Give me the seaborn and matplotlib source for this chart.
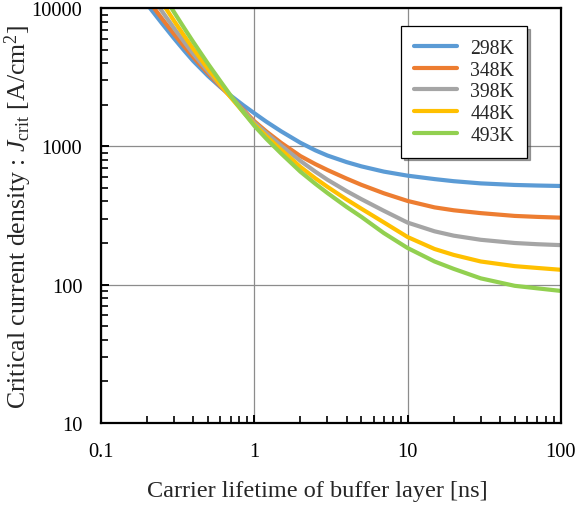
import pandas as pd
import numpy as np
import matplotlib
matplotlib.use('Agg')
import matplotlib.pyplot as plt
import seaborn as sns
_ = sns.set_style('white')
plt.rcParams['font.family'] = ['Liberation Serif', 'DejaVu Serif']
plt.rcParams['mathtext.fontset'] = 'custom'
plt.rcParams['mathtext.rm'] = 'Liberation Serif'
plt.rcParams['mathtext.it'] = 'Liberation Serif:italic'

# carrier lifetime [ns]
lifetime = [0.2, 0.25, 0.3, 0.35, 0.4, 0.5, 0.6, 0.7, 0.85, 1, 1.2, 1.5, 2, 2.5, 3, 4,
            5, 7, 10, 15, 20, 30, 50, 70, 100]

# critical current density [A/cm2]
j_298 = [10660, 7765, 6037, 4918, 4147, 3229, 2691, 2336, 1980, 1739, 1508, 1284, 1062,
         937, 859, 770, 717, 657, 614, 580, 560, 540, 526, 521, 517]
j_348 = [11700, 8405, 6488, 5261, 4423, 3370, 2727, 2296, 1836, 1522, 1281, 1059, 851,
         745, 675, 585, 527, 458, 403, 362, 345, 329, 314, 309, 305]
j_398 = [13650, 9506, 7154, 5675, 4677, 3483, 2773, 2306, 1808, 1488, 1245, 1011, 785,
         657, 574, 475, 415, 342, 281, 243, 226, 211, 200, 196, 193]
j_448 = [16140, 10990, 8091, 6284, 5076, 3632, 2803, 2273, 1766, 1441, 1184, 943, 711,
         588, 510, 413, 354, 282, 221, 181, 164, 147, 136, 132, 128]
j_493 = [19400, 12930, 9342, 7145, 5693, 3950, 2971, 2340, 1766, 1411, 1134, 887, 656,
         537, 460, 365, 309, 236, 184, 147, 130, 111, 98, 94, 90]

temps = ['298K', '348K', '398K', '448K', '493K']
colors = ['#5B9BD5', '#ED7D31', '#A5A5A5', '#FFC000', '#92D050']

frames = []
for t, j in zip(temps, [j_298, j_348, j_398, j_448, j_493]):
    frames.append(pd.DataFrame({'tau': lifetime, 'J': j, 'T': t}))
df = pd.concat(frames, ignore_index=True)

fig, ax = plt.subplots(figsize=(5.77, 5.10), dpi=100)
fig.subplots_adjust(left=0.175, right=0.972, top=0.982, bottom=0.169)

ax.set_xscale('log')
ax.set_yscale('log')
sns.lineplot(data=df, x='tau', y='J', hue='T', palette=colors, linewidth=3,
             ax=ax, sort=False, legend=True, solid_joinstyle='round')

ax.set_xlim(0.1, 100)
ax.set_ylim(10, 10000)
ax.set_xticks([0.1, 1, 10, 100])
ax.set_xticklabels(['0.1', '1', '10', '100'])
ax.set_yticks([10, 100, 1000, 10000])
ax.set_yticklabels(['10', '100', '1000', '10000'])

ax.grid(True, which='major', color='#8c8c8c', linewidth=0.9)
ax.set_axisbelow(True)
for s in ax.spines.values():
    s.set_color('black')
    s.set_linewidth(1.6)

ax.tick_params(axis='both', which='both', direction='in', left=True, bottom=True,
               top=False, right=False, labelsize=14.7, colors='black')
ax.tick_params(which='major', length=6, width=1.4)
ax.tick_params(which='minor', length=5, width=1.2)
ax.tick_params(axis='x', which='major', pad=13.5)
ax.tick_params(axis='y', which='major', pad=13.5)

ax.set_xlabel('Carrier lifetime of buffer layer [ns]', fontsize=17.5)
ax.set_ylabel('Critical current density : $J_{\\rm crit}$ [A/cm$^2$]', fontsize=18.5)
ax.xaxis.set_label_coords(0.47, -0.137)
ax.yaxis.set_label_coords(-0.145, 0.5)

handles, labels = ax.get_legend_handles_labels()
leg = ax.legend(handles, labels, loc='upper right', bbox_to_anchor=(0.926, 0.957),
                borderaxespad=0, fontsize=14.2, frameon=True, fancybox=False,
                shadow=True, edgecolor='black', handlelength=2.2,
                handletextpad=0.65, labelspacing=0.14, borderpad=0.65)
leg.get_frame().set_linewidth(0.9)

_ = fig.savefig('out.png', dpi=100)
